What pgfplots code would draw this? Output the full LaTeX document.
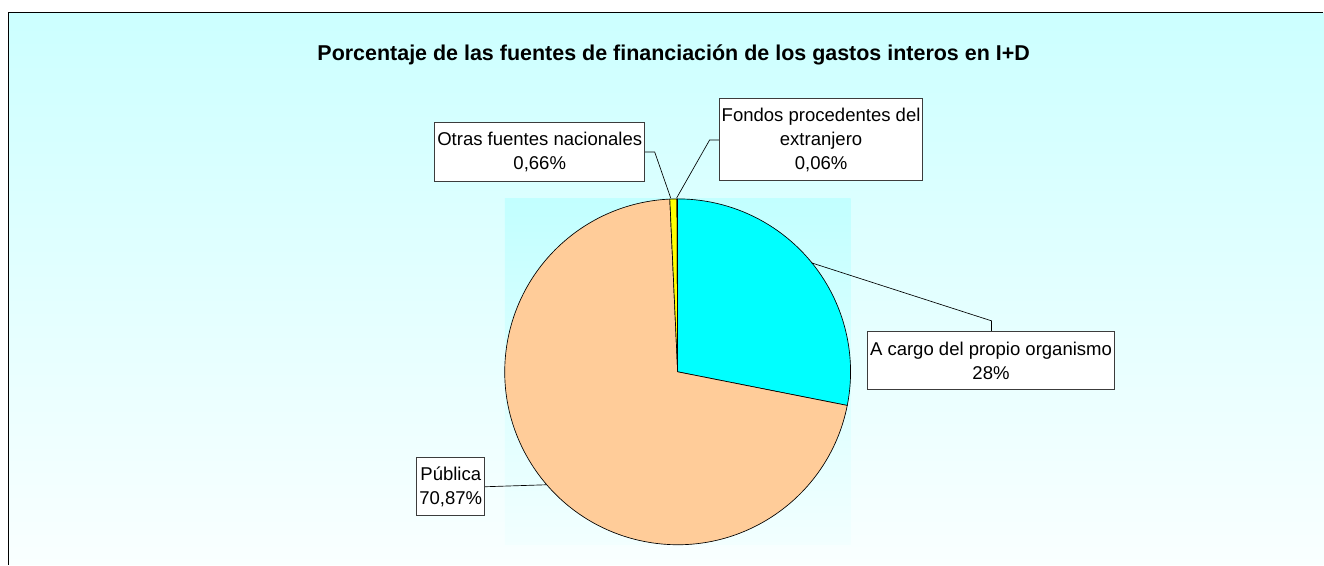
\documentclass[border=0pt]{standalone}
\usepackage{fontspec}
\setmainfont{Liberation Sans}
\usepackage{pgfplots}
\usepackage{pgfplotstable}
\pgfplotsset{compat=1.18}

\definecolor{bgtop}{RGB}{204,255,255}
\definecolor{bgbot}{RGB}{249,255,255}
\definecolor{patop}{RGB}{194,255,255}
\definecolor{pabot}{RGB}{242,255,255}
\definecolor{sliceA}{RGB}{0,255,255}
\definecolor{sliceB}{RGB}{255,204,153}
\definecolor{sliceC}{RGB}{255,255,0}
\definecolor{sliceD}{RGB}{153,51,102}
\definecolor{boxline}{RGB}{60,60,60}

% porcentajes de cada fuente
\pgfplotstableread{
pct
28.00
70.87
0.66
0.06
}\pietable

\begin{document}
\begin{tikzpicture}
\pgfplotstablegetelem{0}{pct}\of\pietable \let\pA\pgfplotsretval
\pgfplotstablegetelem{1}{pct}\of\pietable \let\pB\pgfplotsretval
\pgfplotstablegetelem{2}{pct}\of\pietable \let\pC\pgfplotsretval
\pgfplotstablegetelem{3}{pct}\of\pietable \let\pD\pgfplotsretval
\pgfmathsetmacro\tot{\pA+\pB+\pC+\pD}
\pgfmathsetmacro\eA{90-3.6*(\pA/\tot)*100}
\pgfmathsetmacro\eB{\eA-3.6*(\pB/\tot)*100}
\pgfmathsetmacro\eC{\eB-3.6*(\pC/\tot)*100}
\pgfmathsetmacro\eD{\eC-3.6*(\pD/\tot)*100}
\def\R{129.75pt}% 173 unidades
\def\cx{678}\def\cy{193}
\begin{axis}[
  scale only axis,
  width=993pt, height=423.75pt,
  xmin=0, xmax=1324, ymin=0, ymax=565,
  hide axis, clip=false,
]
% fondo
\fill[white] (axis cs:0,0) rectangle (axis cs:1324,565);
\shade[top color=bgtop, bottom color=bgbot] (axis cs:8.5,0) rectangle (axis cs:1324,552.5);
\draw[black, line width=1pt] (axis cs:8.5,0) -- (axis cs:8.5,552.5) -- (axis cs:1324,552.5);
% area del grafico
\shade[top color=patop, bottom color=pabot] (axis cs:505,20) rectangle (axis cs:851,366);

% sectores
\filldraw[fill=sliceA, draw=black, line width=0.5pt] (axis cs:\cx,\cy) -- (axis cs:{\cx+173*cos(90)},{\cy+173*sin(90)}) arc[start angle=90, end angle=\eA, radius=\R] -- cycle;
\filldraw[fill=sliceB, draw=black, line width=0.5pt] (axis cs:\cx,\cy) -- (axis cs:{\cx+173*cos(\eA)},{\cy+173*sin(\eA)}) arc[start angle=\eA, end angle=\eB, radius=\R] -- cycle;
\filldraw[fill=sliceC, draw=black, line width=0.5pt] (axis cs:\cx,\cy) -- (axis cs:{\cx+173*cos(\eB)},{\cy+173*sin(\eB)}) arc[start angle=\eB, end angle=\eC, radius=\R] -- cycle;
\filldraw[fill=sliceD, draw=black, line width=0.5pt] (axis cs:\cx,\cy) -- (axis cs:{\cx+173*cos(\eC)},{\cy+173*sin(\eC)}) arc[start angle=\eC, end angle=\eD, radius=\R] -- cycle;

% titulo
\node[font=\fontsize{16.1}{19}\selectfont\bfseries] at (axis cs:674,510) {Porcentaje de las fuentes de financiación de los gastos interos en I+D};

% lineas guia
\draw[black, line width=0.5pt] (axis cs:645,413) -- (axis cs:655,413) -- (axis cs:671,367);
\draw[black, line width=0.5pt] (axis cs:720,425) -- (axis cs:710,425) -- (axis cs:677,367);
\draw[black, line width=0.5pt] (axis cs:992,233) -- (axis cs:992,244) -- (axis cs:812,302);
\draw[black, line width=0.5pt] (axis cs:485,78) -- (axis cs:547,80);

% etiquetas
\tikzset{lbl/.style={draw=boxline, line width=0.8pt, fill=white, inner sep=0pt, align=center, font=\fontsize{13.9}{18}\selectfont}}
\node[lbl, minimum width=157.5pt, minimum height=44.25pt] at (axis cs:540,412.5) {Otras fuentes nacionales\\0,66\%};
\node[lbl, minimum width=152.25pt, minimum height=61.5pt] at (axis cs:821.5,425) {Fondos procedentes del\\extranjero\\0,06\%};
\node[lbl, minimum width=185.25pt, minimum height=43.5pt] at (axis cs:991.5,204) {A cargo del propio organismo\\28\%};
\node[lbl, minimum width=51pt, minimum height=43.5pt] at (axis cs:451,78) {Pública\\70,87\%};
\end{axis}
\end{tikzpicture}
\end{document}
